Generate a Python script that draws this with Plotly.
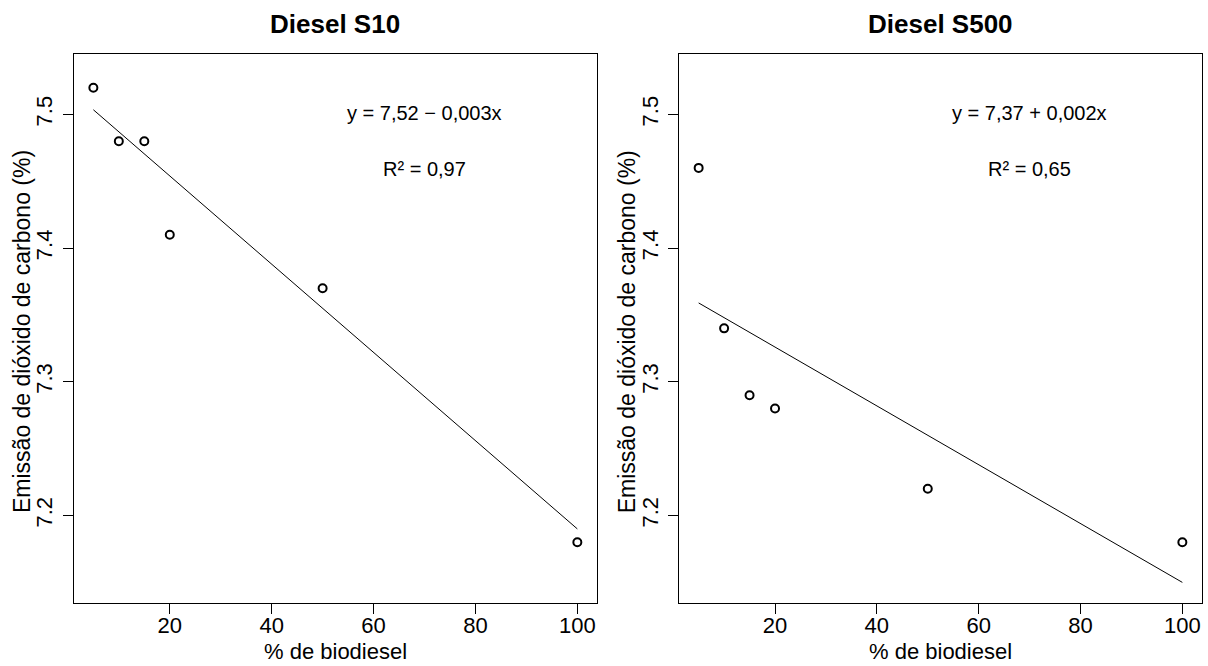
import plotly.graph_objects as go
from plotly.subplots import make_subplots

# Biodiesel blend (%) and CO2 emission (%) for two diesel grades
biodiesel = [5, 10, 15, 20, 50, 100]
co2_s10 = [7.52, 7.48, 7.48, 7.41, 7.37, 7.18]
co2_s500 = [7.46, 7.34, 7.29, 7.28, 7.22, 7.18]

# Fitted straight lines (intercept, slope) and the labels shown next to them
fit_s10 = (7.52, -0.0033)
fit_s500 = (7.37, -0.0022)
eq_s10 = "y = 7,52 \u2212 0,003x"
eq_s500 = "y = 7,37 + 0,002x"
r2_s10 = "R\u00b2 = 0,97"
r2_s500 = "R\u00b2 = 0,65"

panel_titles = ["Diesel S10", "Diesel S500"]
x_title = "% de biodiesel"
y_title = "Emiss\u00e3o de di\u00f3xido de carbono (%)"
x_ticks = [20, 40, 60, 80, 100]
y_ticks = [7.2, 7.3, 7.4, 7.5]

W, H = 1208, 666
FONT = "Liberation Sans, Arial, Helvetica, sans-serif"

# plot boxes in pixels (left, right, top, bottom)
boxes = [(74, 596.7, 54, 602.7), (679.3, 1201.7, 54, 602.7)]

fig = make_subplots(rows=1, cols=2)

series = [(co2_s10, fit_s10, eq_s10, r2_s10), (co2_s500, fit_s500, eq_s500, r2_s500)]
for i, (yv, (b0, b1), eq, r2) in enumerate(series):
    col = i + 1
    x_line = [biodiesel[0], biodiesel[-1]]
    y_line = [b0 + b1 * x for x in x_line]
    fig.add_trace(go.Scatter(x=x_line, y=y_line, mode="lines",
                             line=dict(color="black", width=1),
                             showlegend=False, hoverinfo="skip"), row=1, col=col)
    fig.add_trace(go.Scatter(x=biodiesel, y=yv, mode="markers",
                             marker=dict(symbol="circle-open", size=8,
                                         color="black", line=dict(width=2, color="black")),
                             showlegend=False), row=1, col=col)
    xref = "x" if col == 1 else "x2"
    yref = "y" if col == 1 else "y2"
    fig.add_annotation(x=70, y=7.501, xref=xref, yref=yref, text=eq, showarrow=False,
                       font=dict(size=20, color="black", family=FONT),
                       xanchor="center", yanchor="middle")
    fig.add_annotation(x=70, y=7.459, xref=xref, yref=yref, text=r2, showarrow=False,
                       font=dict(size=20, color="black", family=FONT),
                       xanchor="center", yanchor="middle")

    l, r, t, b = boxes[i]
    xaxis_name = "xaxis" if col == 1 else "xaxis2"
    yaxis_name = "yaxis" if col == 1 else "yaxis2"
    fig.layout[xaxis_name].update(
        domain=[l / W, r / W], range=[1.2, 103.8], tickmode="array", tickvals=x_ticks,
        ticks="outside", ticklen=10, tickwidth=1, tickcolor="black",
        showline=True, linecolor="black", linewidth=1, mirror=True,
        showgrid=False, zeroline=False, ticklabelstandoff=-7,
        tickfont=dict(size=22, color="black", family=FONT))
    fig.layout[yaxis_name].update(
        domain=[(H - b) / H, (H - t) / H], range=[7.1348, 7.5452], tickmode="array",
        tickvals=y_ticks, ticktext=[f"{v:.1f}" for v in y_ticks], tickangle=-90,
        ticks="outside", ticklen=10, tickwidth=1, tickcolor="black",
        showline=True, linecolor="black", linewidth=1, mirror=True,
        showgrid=False, zeroline=False, ticklabelstandoff=2,
        tickfont=dict(size=22, color="black", family=FONT))

    cx = (l + r) / 2
    # panel title
    fig.add_annotation(x=cx / W, y=(H - 24) / H, xref="paper", yref="paper",
                       text=f"<b>{panel_titles[i]}</b>", showarrow=False,
                       font=dict(size=26, color="black", family=FONT),
                       xanchor="center", yanchor="middle")
    # x axis title
    fig.add_annotation(x=cx / W, y=(H - 651) / H, xref="paper", yref="paper",
                       text=x_title, showarrow=False,
                       font=dict(size=22, color="black", family=FONT),
                       xanchor="center", yanchor="middle")
    # y axis title
    fig.add_annotation(x=(l - 52) / W, y=(H - 332) / H, xref="paper", yref="paper",
                       text=y_title, showarrow=False, textangle=-90,
                       font=dict(size=23, color="black", family=FONT),
                       xanchor="center", yanchor="middle")

fig.update_layout(width=W, height=H, autosize=False,
                  margin=dict(l=0, r=0, t=0, b=0),
                  paper_bgcolor="white", plot_bgcolor="white",
                  font=dict(family=FONT, color="black"))

fig.write_html("out.html")
